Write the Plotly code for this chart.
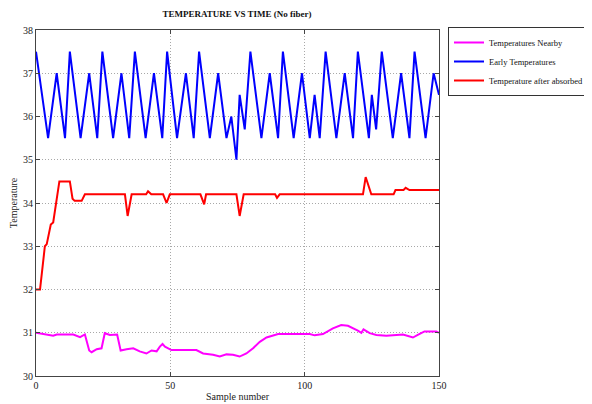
import plotly.graph_objects as go

# Early Temperatures (blue) - vertices
blue_x = [0, 4.5, 7.7, 10.8, 12.6, 16.6, 19.8, 22.8, 24.7, 28.7, 31.8, 34.7, 36.8, 40.8, 43.9, 47,
          48.8, 52.5, 55.8, 58.7, 60.7, 64.7, 67.8, 70.9, 72.7, 74.6, 75.8, 77.7, 79.8, 83.9, 87, 90.1,
          91.9, 95.9, 99, 101.9, 103.7, 105.6, 107.8, 111.8, 114.9, 118, 119.8, 123.9, 125, 126.6,
          128.7, 132.8, 135.9, 139, 140.9, 145, 148, 150]
blue_y = [37.5, 35.5, 37, 35.5, 37.5, 35.5, 37, 35.5, 37.5, 35.5, 37, 35.5, 37.5, 35.5, 37, 35.5,
          37.5, 35.5, 37, 35.5, 37.5, 35.5, 37, 35.5, 36, 35, 36.5, 35.7, 37.5, 35.5, 37, 35.5,
          37.5, 35.5, 37, 35.5, 36.5, 35.5, 37.5, 35.5, 37, 35.5, 37.5, 35.5, 36.5, 35.7,
          37.5, 35.5, 37, 35.5, 37.5, 35.5, 37, 36.5]

# Temperature after absorbed (red)
red_x = [0, 1.5, 3.3, 4, 5.5, 6.4, 8.7, 12.6, 13.6, 14.4, 17, 18.2, 33.1, 34.1, 35.6, 41, 41.7,
         42.9, 47.3, 48.6, 49.8, 61.2, 62.6, 63.3, 74.6, 75.8, 77.3, 89, 89.7, 90.7, 121.7, 122.7,
         124.8, 133.1, 133.8, 136.8, 137.6, 139, 150]
red_y = [32, 32, 33, 33.05, 33.5, 33.55, 34.5, 34.5, 34.1, 34.05, 34.05, 34.2, 34.2, 33.7, 34.2,
         34.2, 34.27, 34.2, 34.2, 34.0, 34.2, 34.2, 33.97, 34.2, 34.2, 33.7, 34.2, 34.2, 34.12,
         34.2, 34.2, 34.6, 34.2, 34.2, 34.3, 34.3, 34.35, 34.3, 34.3]

# Temperatures Nearby (magenta)
mag_x = [0, 5.2, 6.4, 7.7, 13.9, 16.4, 18.2, 19.8, 20.7, 22.6, 24.4, 25.6, 27.5, 30.2, 31.5,
         33.7, 36.2, 38.6, 41.1, 43, 44.9, 46.1, 47.1, 48, 50.4, 59.7, 62.2, 65.9, 68.4, 70.9,
         73.3, 75.8, 78.3, 80.8, 83.3, 85.8, 88.2, 90.1, 101.9, 103.7, 106.8, 110.5, 113.6,
         116.1, 119.8, 121.1, 121.9, 124.2, 126.7, 130.4, 136.6, 140.3, 142.1, 144.6, 149, 150]
mag_y = [31.0, 30.95, 30.93, 30.96, 30.96, 30.9, 30.96, 30.59, 30.55, 30.62, 30.64, 30.99, 30.95,
         30.96, 30.59, 30.62, 30.64, 30.57, 30.52, 30.59, 30.57, 30.68, 30.74, 30.68, 30.6, 30.6,
         30.52, 30.49, 30.45, 30.5, 30.49, 30.45, 30.52, 30.64, 30.79, 30.89, 30.94, 30.97,
         30.97, 30.94, 30.97, 31.1, 31.18, 31.16, 31.05, 31.0, 31.08, 30.99, 30.95, 30.93,
         30.96, 30.89, 30.95, 31.03, 31.03, 31.0]

x_ticks = [0, 50, 100, 150]
y_ticks = [30, 31, 32, 33, 34, 35, 36, 37, 38]

FONT = "Liberation Serif"
W, H = 584, 396  # page body has an 8px margin in the 592x404 window

fig = go.Figure()
fig.add_trace(go.Scatter(x=mag_x, y=mag_y, mode="lines", name="Temperatures Nearby",
                         line=dict(color="#ff00ff", width=2)))
fig.add_trace(go.Scatter(x=blue_x, y=blue_y, mode="lines", name="Early Temperatures",
                         line=dict(color="#0000ff", width=2)))
fig.add_trace(go.Scatter(x=red_x, y=red_y, mode="lines", name="Temperature after absorbed",
                         line=dict(color="#ff0000", width=2)))

axis_common = dict(showline=True, linecolor="#444444", linewidth=1, mirror="ticks",
                   ticks="inside", ticklen=4, tickcolor="#444444", automargin=False,
                   showgrid=True, gridcolor="#a8a8a8", griddash="1px,2px", gridwidth=1,
                   zeroline=False, tickfont=dict(family=FONT, size=10, color="#222222"))

fig.update_xaxes(range=[0, 150], tickvals=x_ticks,
                 title=dict(text="Sample number", font=dict(family=FONT, size=10, color="#222222"),
                            standoff=2), **axis_common)
fig.update_yaxes(range=[30, 38], tickvals=y_ticks,
                 title=dict(text="Temperature", font=dict(family=FONT, size=10, color="#222222"),
                            standoff=3), **axis_common)

fig.update_layout(
    width=W, height=H,
    margin=dict(l=28, r=153, t=22, b=28, autoexpand=False),
    paper_bgcolor="white", plot_bgcolor="white",
    title=dict(text="<b>TEMPERATURE VS TIME (No fiber)</b>", x=229 / W, xanchor="center",
               y=1 - 6 / H, yanchor="middle", font=dict(family=FONT, size=9, color="#111111")),
    showlegend=True,
    legend=dict(xref="container", yref="container", x=440 / W, xanchor="left",
                y=1 - 19 / H, yanchor="top", bgcolor="white",
                bordercolor="#333333", borderwidth=1, itemwidth=30,
                font=dict(family=FONT, size=8.5, color="#111111"), tracegroupgap=0),
)

fig.write_html("out.html")
